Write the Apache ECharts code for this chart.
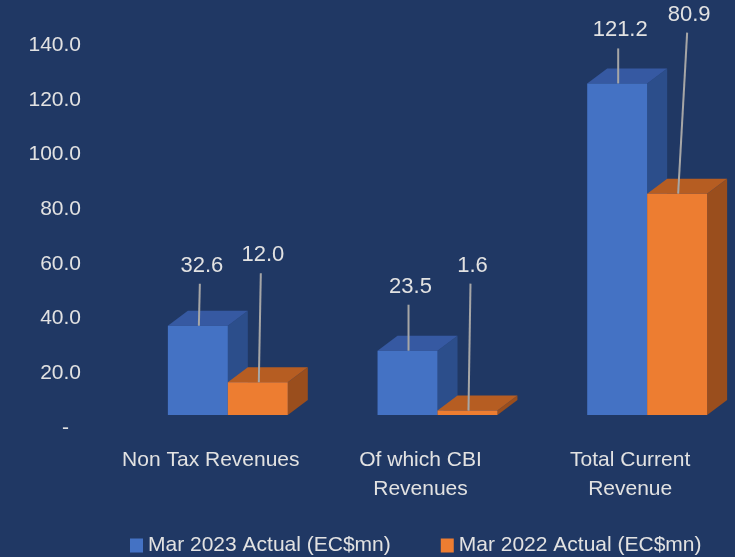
<!DOCTYPE html>
<html>
<head>
<meta charset="utf-8">
<script src="https://cdn.jsdelivr.net/npm/echarts@6/dist/echarts.min.js"></script>
<style>
  html, body { margin: 0; padding: 0; background: #203864; }
  #chart { width: 735px; height: 557px; }
</style>
</head>
<body>
<div id="chart"></div>
<script>
const categories = ['Non Tax Revenues', 'Of which CBI\nRevenues', 'Total Current\nRevenue']
const mar2023 = [32.6, 23.5, 121.2]
const mar2022 = [12.0, 1.6, 80.9]
const seriesNames = ['Mar 2023 Actual (EC$mn)', 'Mar 2022 Actual (EC$mn)']

// hand-placed data labels (offset from the bar's front top centre)
const labelOffsets = [
  [[4, -60], [3, -64], [3, -53]],
  [[5, -127], [5, -145], [12, -179]]
]

const faces = [
  { front: '#4472c4', top: '#3659a2', side: '#2c4e8b' },
  { front: '#ed7d31', top: '#b65d22', side: '#9a4e1d' }
]

const textColor = '#e2e2e2'
const font = 'Liberation Sans'

function makeRender(s) {
  return function (params, api) {
    const i = api.value(0)
    const v = api.value(1)
    const band = api.size([1, 0])[0]
    const w = band * 0.286
    const base = api.coord([i, 0])
    const top = api.coord([i, v])
    const lift = 13, shift = 17, dx = 20, dy = 15
    const junction = base[0] + shift
    const x0 = s === 0 ? junction - w : junction
    const yb = base[1] - lift
    const yt = top[1] - lift
    const f = faces[s]
    const cx = x0 + w / 2
    const off = labelOffsets[s][i]
    const lx = cx + off[0]
    const ly = yt + off[1]
    return {
      type: 'group',
      children: [
        {
          type: 'polygon',
          shape: { points: [[x0 + w, yt], [x0 + w + dx, yt - dy], [x0 + w + dx, yb - dy], [x0 + w, yb]] },
          style: { fill: f.side }
        },
        {
          type: 'polygon',
          shape: { points: [[x0, yt], [x0 + w, yt], [x0 + w + dx, yt - dy], [x0 + dx, yt - dy]] },
          style: { fill: f.top }
        },
        {
          type: 'rect',
          shape: { x: x0, y: yt, width: w, height: yb - yt },
          style: { fill: f.front }
        },
        {
          type: 'line',
          shape: { x1: lx - 2, y1: ly + 18, x2: cx + 1, y2: yt },
          style: { stroke: '#a6a6a6', lineWidth: 2 }
        },
        {
          type: 'text',
          style: {
            x: lx, y: ly, text: v.toFixed(1), fill: textColor,
            font: '22px "' + font + '"', align: 'center', verticalAlign: 'middle'
          }
        }
      ]
    }
  }
}

const chart = echarts.init(document.getElementById('chart'))
chart.setOption({
  backgroundColor: '#203864',
  animation: false,
  textStyle: { fontFamily: font },
  grid: { left: 106, right: -1, top: 45, bottom: 129 },
  legend: {
    left: 125,
    top: 530,
    icon: 'rect',
    itemWidth: 13,
    itemHeight: 14,
    itemGap: 50,
    textStyle: { color: textColor, fontSize: 21, fontFamily: font },
    data: seriesNames
  },
  xAxis: {
    type: 'category',
    data: categories,
    axisLine: { show: false },
    axisTick: { show: false },
    axisLabel: { color: textColor, fontSize: 21, lineHeight: 29, margin: 18, interval: 0 }
  },
  yAxis: {
    type: 'value',
    min: 0,
    max: 140,
    interval: 20,
    splitLine: { show: false },
    axisLine: { show: false },
    axisTick: { show: false },
    axisLabel: {
      color: textColor,
      fontSize: 21,
      margin: 25,
      formatter: v => v === 0 ? '{z|-}' : v.toFixed(1),
      rich: { z: { color: textColor, fontSize: 21, padding: [0, 12, 0, 0] } }
    }
  },
  series: [
    {
      name: seriesNames[0],
      type: 'custom',
      clip: false,
      itemStyle: { color: faces[0].front },
      renderItem: makeRender(0),
      encode: { x: 0, y: 1 },
      data: mar2023.map((v, i) => [i, v])
    },
    {
      name: seriesNames[1],
      type: 'custom',
      clip: false,
      itemStyle: { color: faces[1].front },
      renderItem: makeRender(1),
      encode: { x: 0, y: 1 },
      data: mar2022.map((v, i) => [i, v])
    }
  ]
})
</script>
</body>
</html>
